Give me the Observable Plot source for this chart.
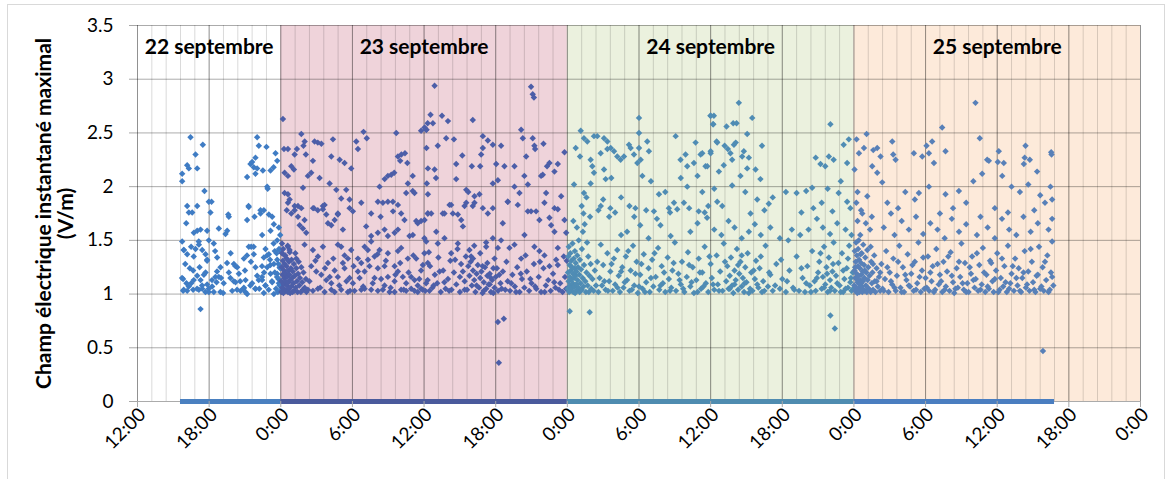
<!DOCTYPE html>
<html><head><meta charset="utf-8">
<script src="https://cdn.jsdelivr.net/npm/d3@7"></script>
<script src="https://cdn.jsdelivr.net/npm/@observablehq/plot@0.6"></script>
<style>
body{margin:0;background:#fff;}
#wrap{position:relative;width:1171px;height:479px;overflow:hidden;}
#border{position:absolute;left:7px;top:4px;width:1156px;height:490px;border:1px solid #d9d9d9;}
#wrap svg{position:absolute;left:0;top:0;}
</style></head><body><div id="wrap"><div id="border"></div></div>
<script>
// Day names, start (hours since 22 Sept 00:00), label position (hour of day), series colours
const dayNames = ["22 septembre","23 septembre","24 septembre","25 septembre"];
const dayStart = [0,24,48,72];
const labelHour = [18,12,12,12];
const dayColor = ["#3f7cc4","#4c5ea8","#4f8cb4","#5880b8"];
// Coloured bands (23, 24, 25 September)
const bandDay = [1,2,3];
const bandColor = ["#efd3da","#ebf1de","#fdeada"];
// Axis ticks
const xTickHours = [12,18,24,30,36,42,48,54,60,66,72,78,84,90,96];
const xTickLabels = ["12:00","18:00","0:00","6:00","12:00","18:00","0:00","6:00","12:00","18:00","0:00","6:00","12:00","18:00","0:00"];
const yTicks = [0,0.5,1,1.5,2,2.5,3,3.5];
const yTickLabels = ["0","0.5","1","1.5","2","2.5","3","3.5"];
// Runs of zero readings (hours since 22 Sept 00:00), one per day
const zeroFrom = [15.6,24,48,72];
const zeroTo = [24,48,72,88.8];
const zeroColor = ["#4a80c0","#4a5a9c","#4f8cb0","#4a7ec0"];

// Measured points [hour of day, V/m]
const pts22 = [
[15.74,2.12],[15.74,2.05],[16.16,2.20],[16.30,2.17],[16.44,2.46],[16.86,2.30],[17.0,2.17],[17.47,2.39],[17.61,1.96],
[16.16,1.82],[17.0,1.82],[16.30,1.76],[16.58,1.76],[17.97,1.86],[18.11,1.76],[16.08,1.66],
[16.72,1.57],[17.0,1.59],[17.28,1.60],[17.83,1.59],[17.97,1.50],[15.74,1.49],
[15.88,1.41],[16.16,1.37],[16.49,1.44],[16.86,1.42],[17.14,1.46],[17.42,1.41],[17.70,1.37],[17.83,1.31],
[15.82,1.14],[16.10,1.10],[16.38,1.24],[16.66,1.22],[17.0,1.17],[17.28,1.13],[17.56,1.18],[17.83,1.09],
[15.82,1.03],[16.16,1.03],[16.66,1.04],[17.14,1.04],[17.42,1.05],[17.97,1.02],[18.25,1.07],[17.28,0.86],
[18.39,1.47],[18.67,1.34],[18.95,1.25],[18.81,1.16],[18.62,1.11],[18.39,1.02],[18.81,1.61],[19.65,1.72],[19.37,1.56],[19.51,1.59],
[19.17,1.01],[19.93,1.03],[19.65,1.20],[20.07,1.28],[20.35,1.25],[20.49,1.19],[20.21,1.11],
[21.05,1.13],[20.91,1.33],[21.32,1.44],[21.18,1.69],[21.32,1.81],
[21.18,2.09],[21.46,2.21],[21.6,2.23],[21.74,2.18],[21.88,2.12],[22.02,2.46],[22.16,2.38],[21.88,2.27],[22.02,2.17],
[21.52,1.44],[21.74,1.37],[21.88,1.25],[22.02,1.17],[21.6,1.10],[21.88,1.05],[21.18,1.0],[20.91,1.06],[20.63,1.03],
[22.3,1.75],[22.58,1.78],[22.86,2.0],[23.28,1.72],[23.42,1.65],[23.14,1.59],
[22.8,2.37],[23.56,2.31],[23.7,2.24],[23.14,2.15],
[22.44,1.55],[22.72,1.42],[22.58,1.34],[23.0,1.37],[22.86,1.25],[23.14,1.19],[23.42,1.28],[22.44,1.13],[22.72,1.08],[22.58,1.01],
[23.7,1.50],[23.9,1.41],[23.84,1.62],[23.95,1.55],[23.7,1.19],[23.9,1.25],[23.84,1.10],[23.42,1.0],[23.95,1.03],[23.28,1.11],
[15.73,1.15],[15.87,1.04],[16.29,1.07],[16.71,1.13],[16.99,1.05],[17.41,1.08],[17.69,1.02],[17.96,1.05],[18.24,1.13],[18.52,1.16],
[18.94,1.02],[19.22,1.10],[19.78,1.15],[20.06,1.12],[20.34,1.04],[20.89,1.05],[21.03,1.02],[21.45,1.08],[21.87,1.05],[22.15,1.13],
[22.43,1.16],[22.71,1.08],[22.99,1.04],[23.26,1.12],[23.68,1.16],
[15.87,1.41],[16.71,1.35],[17.13,1.49],[17.83,1.32],[18.66,1.21],[19.5,1.29],[20.2,1.26],[21.17,1.36],[21.73,1.44],[22.43,1.26],[22.85,1.36],[23.4,1.47],[23.13,1.27],
[23.5,1.2],[23.6,1.05],[23.7,1.32],[23.8,1.14],[23.85,1.42],[23.9,1.08],[23.95,1.24],[23.75,1.02],[23.65,1.38],
[19.6,1.74],[21.3,1.82],[21.8,1.72],[22.3,1.78],[23.0,1.74],[22.9,1.98],[18.2,1.86],[22.5,2.15],[23.4,2.18],
[16.0,1.28],[16.5,1.1],[17.2,1.25],[17.7,1.2],[18.5,1.4],[19.0,1.15],[19.8,1.38],[20.6,1.12],[21.0,1.22],[21.5,1.3],[22.2,1.05],[22.6,1.2],[23.1,1.32],[23.5,1.4],[23.8,1.28]
];
const pts23 = [
[0.05,1.02],[0.05,1.12],[0.08,1.25],[0.1,1.38],[0.1,1.47],[0.12,1.06],[0.15,1.18],[0.18,1.31],[0.2,1.42],[0.22,1.01],[0.25,1.09],[0.27,1.22],
[0.3,1.15],[0.32,1.28],[0.35,1.04],[0.38,1.36],[0.4,1.12],[0.42,1.19],[0.45,1.03],[0.48,1.26],[0.5,1.33],[0.52,1.08],[0.55,1.16],[0.58,1.45],
[0.6,1.02],[0.62,1.22],[0.65,1.11],[0.68,1.3],[0.7,1.05],[0.72,1.18],[0.75,1.39],[0.78,1.01],[0.8,1.13],[0.85,1.24],[0.88,1.07],[0.9,1.32],
[0.95,1.15],[0.98,1.02],[1.0,1.21],[1.05,1.1],[1.1,1.28],[1.12,1.03],[1.18,1.17],[1.22,1.38],[1.25,1.06],[1.3,1.24],[1.35,1.12],[1.4,1.02],
[1.45,1.19],[1.5,1.3],[1.55,1.08],[1.6,1.15],[1.68,1.02],[1.72,1.25],[1.8,1.11],[1.85,1.04],[1.9,1.2],[2.0,1.06],[2.1,1.14],[2.15,1.02],
[0.18,2.63],[0.27,2.35],[0.6,2.35],[1.16,2.30],[1.35,2.35],[1.72,2.49],[1.9,2.38],[2.0,2.42],[2.1,2.30],[0.32,2.13],[0.6,2.10],[0.88,2.19],
[1.1,2.16],[0.32,1.94],[0.6,1.93],[0.74,1.88],[0.5,1.78],[1.16,1.78],[1.44,1.82],[1.86,1.99],
[2.83,2.42],[3.1,2.41],[3.4,2.40],[4.37,2.44],[4.23,2.28],[4.93,2.25],[5.34,2.22],[6.32,2.42],[6.46,2.35],[6.93,2.51],[7.2,2.45],[8.27,2.0],
[8.7,2.07],[8.97,2.10],[9.25,2.11],[9.5,2.13],[9.67,2.50],[9.81,2.28],[10.1,2.30],[10.4,2.31],[10.0,2.24],[10.6,2.22],[11.05,2.10],[8.13,1.86],
[8.55,1.85],[8.97,1.86],[9.4,1.77],[9.81,1.83],[10.5,1.94],[10.64,2.03],[11.05,1.96],[11.2,1.94],[11.75,2.52],[12.2,2.53],[12.3,2.59],[12.2,2.36],
[12.23,2.03],[2.27,2.10],[2.55,2.13],[2.69,2.24],[3.25,2.08],[4.09,2.03],[4.65,1.97],[5.06,1.89],[5.48,1.97],[5.9,2.17],[5.76,1.88],[2.7,1.80],
[3.1,1.78],[3.53,1.82],[4.78,1.75],[7.57,1.75],
[0.6,1.85],[0.88,1.75],[1.16,1.82],[1.44,1.72],[1.72,1.80],[1.99,1.69],[1.58,1.64],[1.85,1.61],[2.13,1.57],[2.78,1.80],[3.53,1.79],[3.67,1.83],
[3.81,1.74],[3.95,1.66],[4.23,1.64],[4.51,1.69],[4.78,1.74],[5.2,1.60],[5.76,1.80],[6.04,1.77],[6.74,1.85],[7.15,1.63],[7.57,1.54],[8.13,1.57],
[8.36,1.72],[8.69,1.60],[8.97,1.54],[9.39,1.86],[9.53,1.57],[9.81,1.60],[10.08,1.75],[10.36,1.69],[10.78,1.54],[11.06,1.55],[11.34,1.68],[11.47,1.66],
[11.75,1.68],[12.03,1.52],[12.31,1.75],
[0.6,1.44],[0.74,1.41],[0.32,1.36],[1.3,1.33],[1.99,1.46],[2.69,1.41],[3.11,1.35],[3.53,1.44],[3.95,1.29],[4.51,1.22],[4.78,1.46],[5.06,1.44],
[5.34,1.36],[5.62,1.33],[5.9,1.41],[6.46,1.33],[6.74,1.29],[7.02,1.44],[7.29,1.41],[7.57,1.49],[7.85,1.35],[8.27,1.41],[8.69,1.26],[8.97,1.38],
[9.53,1.26],[9.81,1.40],[10.08,1.43],[10.64,1.33],[10.92,1.16],[11.34,1.33],[11.75,1.22],[12.03,1.38],[12.31,1.29],
[2.55,1.26],[2.97,1.21],[3.39,1.18],[3.81,1.13],[4.23,1.10],[4.78,1.16],[5.34,1.24],[5.76,1.15],[6.04,1.10],[6.46,1.21],[7.02,1.21],[7.43,1.26],
[7.85,1.15],[8.13,1.24],[8.69,1.08],[8.97,1.16],[9.53,1.12],[9.81,1.21],[10.22,1.16],[10.5,1.10],[10.92,1.05],[11.2,1.13],[11.47,1.08],[11.75,1.05],
[12.17,1.10],
[2.27,1.04],[2.69,1.03],[3.11,1.05],[3.67,1.02],[4.23,1.04],[4.51,1.02],[5.06,1.04],[5.62,1.02],[6.18,1.03],[6.74,1.04],[7.02,1.05],[7.57,1.04],
[8.13,1.03],[8.55,1.04],[9.11,1.02],[9.53,1.02],[10.08,1.04],[10.5,1.03],[11.2,1.03],[11.47,1.02],[11.89,1.04],[12.45,1.03],
[12.88,2.94],[20.96,2.93],[21.1,2.86],[21.2,2.83],[12.18,2.53],[12.54,2.67],[12.74,2.59],[13.5,2.66],[14.0,2.61],[16.08,2.62],[20.13,2.53],[20.27,2.45],
[21.1,2.45],[21.24,2.38],[21.3,2.35],[22.0,2.40],[13.85,2.45],[14.5,2.44],[16.92,2.47],[17.34,2.43],[17.76,2.39],[18.45,2.38],[16.92,2.36],[13.15,2.38],
[12.04,2.55],[23.76,2.32],[23.2,2.21],[22.5,2.22],[22.3,2.19],[21.94,2.11],[21.8,2.10],[15.2,2.29],[16.78,2.30],[16.7,2.19],[16.0,2.19],[14.69,2.21],
[12.88,2.16],[18.04,2.21],[18.73,2.19],[19.57,2.19],[20.55,2.28],[20.4,2.10],[22.92,2.14],[16.08,1.82],[15.53,1.97],[15.7,1.95],[16.22,1.91],[16.64,1.93],
[14.69,2.07],[17.76,2.03],[18.18,2.06],[19.57,2.0],[19.99,1.94],[20.69,2.02],[22.22,1.94],[23.48,1.91],[12.32,1.93],[13.0,2.08],[12.32,2.17],[12.6,1.75],
[13.71,1.75],[14.27,1.83],[14.83,1.74],[15.39,1.82],[17.34,1.75],[17.76,1.80],[19.01,1.86],[20.96,1.77],[22.08,1.85],[22.92,1.80],
[12.32,1.75],[13.57,1.75],[14.13,1.83],[14.41,1.75],[15.11,1.69],[15.25,1.63],[15.53,1.85],[16.22,1.85],[16.92,1.80],[18.59,1.66],[19.01,1.86],[19.85,1.83],
[20.41,1.55],[20.69,1.77],[21.38,1.77],[21.66,1.69],[22.5,1.71],[22.64,1.64],[22.92,1.58],[23.2,1.79],[23.76,1.69],[23.9,1.57],[13.02,1.58],[12.04,1.69],
[17.76,1.52],[18.45,1.50],
[12.18,1.49],[13.15,1.47],[13.71,1.52],[14.27,1.38],[14.83,1.47],[15.94,1.35],[17.2,1.44],[18.18,1.43],[19.15,1.43],[19.57,1.46],[20.13,1.33],[21.24,1.44],
[21.66,1.40],[22.08,1.36],[23.06,1.32],[23.2,1.43],
[12.1,1.03],[12.3,1.13],[12.5,1.26],[12.7,1.06],[12.9,1.18],[13.1,1.1],[13.2,1.34],[13.4,1.02],[13.6,1.22],[13.8,1.05],[14.0,1.14],[14.2,1.31],
[14.3,1.04],[14.5,1.2],[14.7,1.09],[14.8,1.42],[15.0,1.02],[15.1,1.28],[15.25,1.21],[15.4,1.12],[15.5,1.35],[15.6,1.04],[15.7,1.26],[15.8,1.17],
[15.9,1.3],[16.0,1.08],[16.1,1.22],[16.2,1.13],[16.3,1.02],[16.4,1.19],[16.5,1.27],[16.6,1.06],[16.7,1.15],[16.8,1.21],[16.9,1.01],[17.0,1.11],
[17.1,1.25],[17.2,1.05],[17.3,1.17],[17.4,1.09],[17.5,1.19],[17.6,1.02],[17.7,1.13],[17.8,1.24],[17.9,1.06],[18.0,1.16],[18.2,1.03],[18.4,1.1],
[18.6,1.21],[18.8,1.04],[19.0,1.12],[19.2,1.03],[19.4,1.18],[19.6,1.07],[19.8,1.25],[20.0,1.02],[20.2,1.14],[20.4,1.06],[20.6,1.21],[20.8,1.03],
[21.0,1.1],[21.2,1.28],[21.4,1.05],[21.6,1.16],[21.8,1.02],[22.0,1.24],[22.2,1.08],[22.4,1.13],[22.6,1.03],[22.8,1.19],[23.0,1.06],[23.2,1.27],
[23.4,1.1],[23.6,1.02],[23.8,1.16],[23.95,1.31],[23.9,1.05],
[2.4,1.12],[2.9,1.31],[3.3,1.06],[3.7,1.24],[4.1,1.16],[4.4,1.33],[4.9,1.08],[5.2,1.29],[5.5,1.12],[5.8,1.03],[6.1,1.26],[6.6,1.15],[6.9,1.07],
[7.3,1.32],[7.7,1.1],[8.1,1.37],[8.4,1.14],[8.8,1.31],[9.2,1.06],[9.6,1.18],[10.0,1.29],[10.3,1.04],[10.7,1.2],[11.1,1.36],[11.6,1.14],[11.9,1.27],
[12.4,1.39],[12.8,1.08],[13.3,1.21],[13.7,1.11],[14.1,1.03],[14.6,1.32],[15.0,1.16],[15.4,1.04],[15.8,1.41],[16.1,1.33],[16.4,1.08],[16.7,1.38],
[17.0,1.03],[17.3,1.29],[17.6,1.15],[17.9,1.33],[18.1,1.24],[18.5,1.05],[18.9,1.3],[19.3,1.1],[19.7,1.02],[20.1,1.19],[20.5,1.36],[20.9,1.14],
[21.3,1.07],[21.7,1.3],[22.1,1.02],[22.5,1.26],[22.9,1.11],[23.3,1.04],[23.7,1.35],[16.2,1.45],[17.2,1.48],[16.9,1.26],[17.5,1.09],[17.8,1.01],[18.3,1.18],
[18.18,0.74],[18.68,0.77],[18.26,0.36]
];
const pts24 = [
[0.02,1.05],[0.05,1.2],[0.08,1.35],[0.1,1.12],[0.12,1.44],[0.15,1.02],[0.18,1.27],[0.2,1.16],[0.22,1.08],[0.25,1.38],[0.28,1.22],[0.3,1.03],
[0.33,1.31],[0.35,1.14],[0.38,1.06],[0.4,1.25],[0.43,1.47],[0.45,1.1],[0.48,1.19],[0.5,1.02],[0.53,1.33],[0.55,1.15],[0.58,1.07],[0.6,1.24],
[0.63,1.4],[0.65,1.01],[0.68,1.17],[0.7,1.29],[0.73,1.09],[0.75,1.21],[0.8,1.04],[0.83,1.36],[0.85,1.13],[0.9,1.25],[0.93,1.06],[0.95,1.5],
[1.0,1.18],[1.03,1.02],[1.05,1.32],[1.1,1.1],[1.15,1.23],[1.2,1.04],[1.22,1.42],[1.28,1.15],[1.3,1.58],[1.35,1.07],[1.4,1.27],[1.45,1.65],
[1.5,1.12],[1.55,1.02],[1.6,1.2],[1.65,1.48],[1.7,1.08],[1.75,1.35],[1.8,1.02],[1.85,1.17],[1.9,1.72],[1.95,1.28],[2.0,1.05],[2.1,1.14],
[2.2,1.03],[2.3,1.22],[2.4,1.08],[1.2,1.82],[1.6,1.9],[1.35,1.75],[0.8,1.62],[0.5,1.68],[0.2,0.84],[1.87,0.83],
[1.12,2.52],[1.39,2.45],[1.67,2.42],[2.23,2.47],[2.51,2.47],[3.07,2.45],[3.35,2.42],[0.7,2.36],[1.06,2.28],[1.95,2.25],[2.09,2.19],[2.79,2.31],
[3.07,2.16],[3.35,2.35],[3.63,2.36],[3.91,2.33],[4.18,2.28],[4.46,2.25],[4.74,2.28],[5.16,2.39],[5.3,2.36],[5.58,2.30],[6.0,2.64],[6.0,2.50],
[6.0,2.36],[6.14,2.25],[6.69,2.42],[6.83,2.33],[5.86,2.22],[9.07,2.47],[9.48,2.25],[9.9,2.30],[10.04,2.19],[10.6,2.22],[10.74,2.41],[11.16,2.30],
[11.72,2.19],[12.0,2.66],[12.27,2.66],[12.22,2.58],[12.0,2.31],[12.55,2.41],
[0.56,2.02],[1.39,1.94],[1.95,2.03],[2.23,2.13],[3.21,2.07],[3.68,2.08],[6.28,2.10],[7.67,1.93],[8.93,1.85],[10.04,2.0],[4.5,1.9],[5.2,1.82],
[7.0,2.05],[8.2,1.95],[9.5,2.08],[10.9,2.1],[11.3,1.95],[11.8,1.82],[2.6,1.78],[3.0,1.88],[4.0,1.76],[5.7,1.8],[6.6,1.78],[8.6,1.76],[10.2,1.8],[11.0,1.77],
[14.36,2.78],[11.99,2.66],[12.2,2.58],[13.33,2.56],[13.89,2.59],[14.17,2.59],[15.48,2.64],[22.03,2.58],[11.3,2.31],[12.0,2.33],[12.5,2.42],[13.17,2.38],
[13.44,2.35],[13.66,2.31],[13.95,2.39],[14.1,2.41],[13.8,2.25],[14.64,2.28],[14.78,2.33],[15.06,2.49],[15.2,2.27],[15.76,2.16],[16.3,2.38],[11.57,2.19],
[12.69,2.14],[12.55,1.86],[12.97,1.82],[13.8,2.01],[15.06,2.17],[16.17,2.07],[16.87,1.84],[15.34,1.75],[19.2,1.94],[20.0,1.96],[20.5,1.99],[20.8,2.27],
[21.2,2.21],[21.6,2.19],[21.9,2.28],[22.3,2.25],[22.72,1.94],[23.14,2.39],[23.57,2.44],[23.43,2.22],[23.43,1.86],[14.5,2.1],[14.9,1.95],[15.9,1.88],
[16.5,1.78],[17.2,1.9],[18.3,1.95],[19.6,1.76],[20.6,1.8],[21.3,1.85],[21.8,1.98],[22.2,1.77],[22.9,2.05],[23.7,1.8],[12.3,1.98],[13.1,2.2],[11.5,1.76],
[17.8,1.52],[18.8,1.6],[22.03,0.80],[22.4,0.68],
[2.8,1.82],[3.6,1.8],[3.5,1.72],[5.0,1.58],[5.6,1.72],[6.1,1.64],[7.25,1.77],[7.5,1.7],[7.8,1.64],[8.5,1.8],[8.65,1.54],[9.2,1.79],[9.76,1.85],
[10.9,1.66],[11.7,1.71],[12.3,1.6],[12.9,1.55],[13.5,1.68],[14.0,1.62],[14.6,1.52],[15.2,1.58],[15.7,1.65],[16.2,1.55],[17.0,1.62],[18.5,1.5],
[19.5,1.55],[20.2,1.6],[20.9,1.7],[21.4,1.62],[22.0,1.56],[22.6,1.66],[23.3,1.6],[23.8,1.55],[4.5,1.55],[6.8,1.52],[10.3,1.58],
[2.6,1.02],[2.7,1.15],[2.8,1.46],[2.9,1.08],[3.0,1.27],[3.2,1.04],[3.35,1.38],[3.5,1.12],[3.6,1.21],[3.8,1.03],[3.9,1.33],[4.0,1.09],[4.18,1.41],
[4.3,1.17],[4.4,1.02],[4.6,1.25],[4.7,1.06],[4.9,1.35],[5.0,1.13],[5.2,1.03],[5.3,1.22],[5.5,1.45],[5.6,1.08],[5.8,1.3],[5.9,1.01],[6.1,1.18],
[6.3,1.05],[6.4,1.37],[6.6,1.11],[6.8,1.24],[6.9,1.02],[7.1,1.32],[7.2,1.07],[7.4,1.16],[7.6,1.43],[7.7,1.04],[7.9,1.26],[8.0,1.1],[8.2,1.02],
[8.4,1.34],[8.5,1.14],[8.7,1.06],[8.8,1.22],[9.0,1.48],[9.1,1.03],[9.3,1.19],[9.5,1.09],[9.6,1.3],[9.8,1.02],[10.0,1.16],[10.1,1.39],[10.3,1.07],
[10.5,1.25],[10.6,1.01],[10.8,1.13],[11.0,1.33],[11.2,1.05],[11.3,1.2],[11.5,1.44],[11.6,1.1],[11.8,1.02],[12.0,1.28],[12.1,1.15],[12.3,1.04],
[12.5,1.36],[12.6,1.09],[12.8,1.21],[13.0,1.03],[13.1,1.47],[13.3,1.12],[13.4,1.26],[13.5,1.05],[13.6,1.17],[13.7,1.34],[13.8,1.08],[13.9,1.01],
[14.0,1.22],[14.1,1.13],[14.2,1.42],[14.3,1.04],[14.4,1.19],[14.5,1.3],[14.6,1.07],[14.7,1.15],[14.8,1.02],[14.9,1.25],[15.0,1.11],[15.1,1.38],
[15.3,1.05],[15.4,1.2],[15.5,1.03],[15.7,1.14],[15.8,1.31],[16.0,1.06],[16.1,1.24],[16.3,1.02],[16.4,1.12],[16.6,1.45],[16.8,1.07],[17.0,1.18],
[17.2,1.03],[17.5,1.28],[17.8,1.05],[18.0,1.14],[18.3,1.02],[18.6,1.22],[18.9,1.06],[19.2,1.35],[19.4,1.03],[19.7,1.15],[19.9,1.02],[20.1,1.26],
[20.3,1.08],[20.5,1.4],[20.7,1.12],[20.8,1.03],[21.0,1.2],[21.1,1.3],[21.3,1.05],[21.4,1.16],[21.5,1.44],[21.6,1.09],[21.7,1.25],[21.8,1.02],
[21.9,1.34],[22.0,1.13],[22.1,1.06],[22.2,1.21],[22.3,1.48],[22.4,1.03],[22.5,1.17],[22.7,1.29],[22.8,1.08],[23.0,1.38],[23.1,1.02],[23.2,1.14],
[23.4,1.24],[23.5,1.06],[23.6,1.45],[23.7,1.11],[23.8,1.03],[23.9,1.2],
[2.5,1.3],[3.1,1.12],[3.4,1.03],[3.7,1.28],[4.2,1.06],[4.5,1.21],[4.8,1.11],[5.1,1.4],[5.4,1.04],[5.7,1.19],[6.0,1.07],[6.2,1.28],[6.5,1.02],
[7.0,1.15],[7.3,1.38],[7.8,1.08],[8.1,1.2],[8.6,1.03],[8.9,1.29],[9.4,1.13],[9.7,1.05],[10.2,1.27],[10.4,1.11],[10.9,1.02],[11.1,1.2],[11.4,1.07],
[11.9,1.35],[12.2,1.09],[12.7,1.03],[13.2,1.3],[13.6,1.05],[14.0,1.09],[14.3,1.27],[14.6,1.36],[14.85,1.1],[15.2,1.01],[15.6,1.22],[15.9,1.09],
[16.2,1.35],[16.5,1.03],[16.9,1.2],[17.4,1.08],[17.9,1.32],[18.4,1.12],[19.0,1.04],[19.6,1.24],[20.0,1.1],[20.4,1.02],[20.9,1.15],[21.2,1.38],
[21.5,1.06],[21.75,1.19],[22.0,1.03],[22.25,1.28],[22.6,1.1],[22.9,1.02],[23.1,1.22],[23.3,1.05],[23.5,1.33],[23.75,1.15],[23.95,1.05]
];
const pts25 = [
[0.02,1.08],[0.05,1.22],[0.07,1.4],[0.1,1.03],[0.12,1.15],[0.15,1.3],[0.18,1.48],[0.2,1.06],[0.23,1.19],[0.25,1.36],[0.28,1.01],[0.3,1.11],
[0.33,1.26],[0.35,1.42],[0.38,1.05],[0.4,1.17],[0.43,1.32],[0.45,1.02],[0.48,1.09],[0.5,1.24],[0.53,1.55],[0.55,1.13],[0.58,1.04],[0.6,1.29],
[0.63,1.18],[0.65,1.38],[0.68,1.07],[0.7,1.02],[0.73,1.21],[0.75,1.12],[0.78,1.46],[0.8,1.04],[0.85,1.27],[0.88,1.15],[0.9,1.03],[0.95,1.34],
[1.0,1.08],[1.03,1.2],[1.08,1.02],[1.12,1.41],[1.15,1.13],[1.2,1.25],[1.25,1.05],[1.3,1.17],[1.35,1.6],[1.4,1.02],[1.45,1.3],[1.5,1.1],
[1.55,1.2],[1.6,1.04],[1.7,1.36],[1.75,1.12],[1.8,1.02],[1.9,1.24],[2.0,1.07],[2.1,1.16],[2.2,1.03],[0.3,1.68],[0.7,1.75],[1.0,1.66],[1.5,1.72],[0.2,1.85],
[0.1,1.25],[0.4,1.5],[0.6,1.1],[0.9,1.22],[1.2,1.05],[1.6,1.28],[1.9,1.12],[0.25,1.14],[0.55,1.37],[1.4,1.44],
[1.06,2.49],[0.22,2.44],[0.84,2.36],[0.42,2.31],[1.62,2.34],[1.95,2.36],[2.23,2.28],[1.53,2.19],[3.21,2.42],[3.29,2.30],[3.49,2.25],[5.02,2.31],
[5.72,2.28],[6.28,2.31],[6.55,2.42],[7.39,2.55],[7.67,2.33],[10.18,2.78],[10.54,2.45],[11.16,2.25],[12.13,2.33],[10.74,2.12],[0.05,2.16],[1.95,2.13],
[2.37,2.04],[5.44,1.94],[7.67,1.93],[8.79,1.96],[1.12,1.91],[6.08,2.38],[6.7,2.22],[14.37,2.38],[16.52,2.32],[16.55,2.30],[11.3,2.24],[12.05,2.23],
[12.55,2.22],[14.3,2.27],[14.73,2.25],[14.23,2.21],[15.34,2.14],[12.42,2.10],[16.46,2.0],[6.28,2.0],[10.0,2.05],[13.2,2.0],[13.9,1.95],[14.6,2.02],
[15.6,1.92],[16.0,1.85],[16.6,1.88],[9.4,1.85],[8.3,1.8],[7.2,1.75],[5.1,1.88],[4.3,1.95],[3.7,1.8],[2.8,1.85],[0.6,1.78],[0.3,1.95],[11.8,1.8],
[12.9,1.76],[10.6,1.72],[15.1,1.78],[15.83,0.47],
[2.5,1.62],[3.1,1.75],[3.4,1.55],[4.0,1.68],[4.6,1.6],[5.2,1.72],[5.8,1.56],[6.4,1.66],[7.0,1.6],[7.6,1.52],[8.2,1.7],[8.8,1.58],[9.4,1.65],
[10.3,1.55],[11.2,1.62],[11.8,1.52],[12.4,1.7],[13.0,1.6],[13.6,1.55],[14.2,1.72],[14.8,1.58],[15.4,1.66],[16.3,1.6],[16.6,1.7],
[2.3,1.28],[2.4,1.05],[2.6,1.14],[2.7,1.4],[2.9,1.02],[3.0,1.2],[3.2,1.09],[3.3,1.33],[3.5,1.03],[3.6,1.17],[3.8,1.45],[3.9,1.06],[4.1,1.25],
[4.2,1.02],[4.4,1.13],[4.5,1.37],[4.7,1.07],[4.8,1.19],[5.0,1.03],[5.1,1.3],[5.3,1.1],[5.4,1.48],[5.6,1.02],[5.7,1.22],[5.9,1.05],[6.0,1.15],
[6.2,1.35],[6.3,1.03],[6.5,1.12],[6.6,1.26],[6.8,1.04],[6.9,1.42],[7.1,1.09],[7.2,1.18],[7.4,1.02],[7.5,1.3],[7.7,1.07],[7.8,1.21],[8.0,1.03],
[8.1,1.39],[8.3,1.11],[8.4,1.01],[8.6,1.24],[8.7,1.06],[8.9,1.16],[9.0,1.47],[9.2,1.04],[9.3,1.29],[9.5,1.1],[9.6,1.02],[9.8,1.19],[9.9,1.35],
[10.1,1.06],[10.2,1.14],[10.4,1.03],[10.5,1.27],[10.7,1.09],[10.8,1.43],[11.0,1.02],[11.1,1.18],[11.3,1.05],[11.4,1.31],[11.6,1.12],[11.7,1.02],
[11.9,1.22],[12.0,1.38],[12.2,1.04],[12.3,1.15],[12.5,1.07],[12.6,1.26],[12.8,1.02],[12.9,1.45],[13.1,1.1],[13.2,1.19],[13.4,1.03],[13.5,1.33],
[13.7,1.08],[13.8,1.24],[14.0,1.02],[14.1,1.15],[14.3,1.4],[14.4,1.06],[14.6,1.21],[14.7,1.03],[14.9,1.3],[15.0,1.11],[15.2,1.02],[15.3,1.17],
[15.5,1.44],[15.6,1.05],[15.8,1.25],[15.9,1.03],[16.1,1.13],[16.2,1.36],[16.4,1.04],[16.5,1.2],[16.6,1.49],[16.7,1.08],
[2.2,1.2],[2.5,1.03],[2.8,1.25],[3.1,1.12],[3.4,1.06],[3.7,1.3],[4.0,1.02],[4.3,1.18],[4.6,1.08],[4.9,1.27],[5.2,1.04],[5.5,1.16],[5.8,1.34],
[6.1,1.06],[6.4,1.2],[6.7,1.02],[7.0,1.28],[7.3,1.12],[7.6,1.04],[7.9,1.35],[8.2,1.17],[8.5,1.05],[8.8,1.3],[9.1,1.1],[9.4,1.02],[9.7,1.25],
[10.0,1.13],[10.3,1.38],[10.6,1.04],[10.9,1.2],[11.2,1.07],[11.5,1.29],[11.8,1.14],[12.1,1.02],[12.4,1.33],[12.7,1.11],[13.0,1.05],[13.3,1.26],
[13.6,1.15],[13.9,1.03],[14.2,1.2],[14.5,1.09],[14.8,1.42],[15.1,1.04],[15.4,1.18],[15.7,1.07],[16.0,1.3],[16.3,1.02],[16.6,1.16]
];

const points = [pts22, pts23, pts24, pts25].flatMap((arr, i) => arr.map(([h, v]) => ({x: dayStart[i] + h, y: v, c: dayColor[i]})));
const bands = bandDay.map((d, i) => ({x1: dayStart[d], x2: dayStart[d] + 24, color: bandColor[i]}));
const labels = dayNames.map((name, i) => ({x: dayStart[i] + labelHour[i], name}));
const zeroRuns = zeroFrom.map((f, i) => ({from: f, to: zeroTo[i], c: zeroColor[i]}));
const minorGrid = d3.range(0, 71).map(i => 12 + i * 1.2);

const chart = Plot.plot({
  width: 1171, height: 479,
  marginLeft: 137, marginRight: 31, marginTop: 25, marginBottom: 78,
  x: {domain: [12, 96]},
  y: {domain: [0, 3.5]},
  color: {type: "identity"},
  style: {fontFamily: "Lato, 'Open Sans', sans-serif", fontSize: "19px", color: "#000", background: "transparent"},
  marks: [
    Plot.rect(bands, {x1: "x1", x2: "x2", y1: 0, y2: 3.5, fill: "color"}),
    Plot.ruleX(minorGrid, {stroke: "#000", strokeOpacity: 0.15, strokeWidth: 1}),
    Plot.ruleX(xTickHours, {stroke: "#000", strokeOpacity: 0.33, strokeWidth: 1}),
    Plot.ruleY(yTicks, {stroke: "#000", strokeOpacity: 0.33, strokeWidth: 1}),
    Plot.ruleY(zeroRuns, {y: 0, x1: "from", x2: "to", stroke: "c", strokeWidth: 5}),
    Plot.dot(points, {x: "x", y: "y", symbol: "diamond2", r: 2.9, fill: "c", stroke: "none"}),
    Plot.text(labels, {x: "x", y: 3.3, text: "name", fontWeight: "bold", fontSize: 21, fill: "#000"}),
    Plot.axisY({ticks: yTicks, tickSize: 8, tickFormat: () => "", stroke: "#a8a8a8", label: null}),
    Plot.axisY({ticks: yTicks, tickSize: 0, tickPadding: 24, tickFormat: (d, i) => yTickLabels[i], fill: "#000", fontSize: 19, label: null}),
    Plot.axisX({ticks: xTickHours, tickSize: 6, tickFormat: () => "", stroke: "#a8a8a8", label: null}),
    Plot.axisX({ticks: xTickHours, tickSize: 0, tickPadding: 10, tickRotate: -45, tickFormat: (d, i) => xTickLabels[i], fill: "#000", fontSize: 19, dx: 5, label: null}),
    Plot.text(["Champ électrique instantané maximal\n(V/m)"], {frameAnchor: "left", dx: -83, rotate: -90, textAnchor: "middle", lineAnchor: "middle", lineHeight: 1.05, fontWeight: "bold", fontSize: 21, fill: "#000"})
  ]
});
document.getElementById("wrap").appendChild(chart);
</script>
</body></html>
